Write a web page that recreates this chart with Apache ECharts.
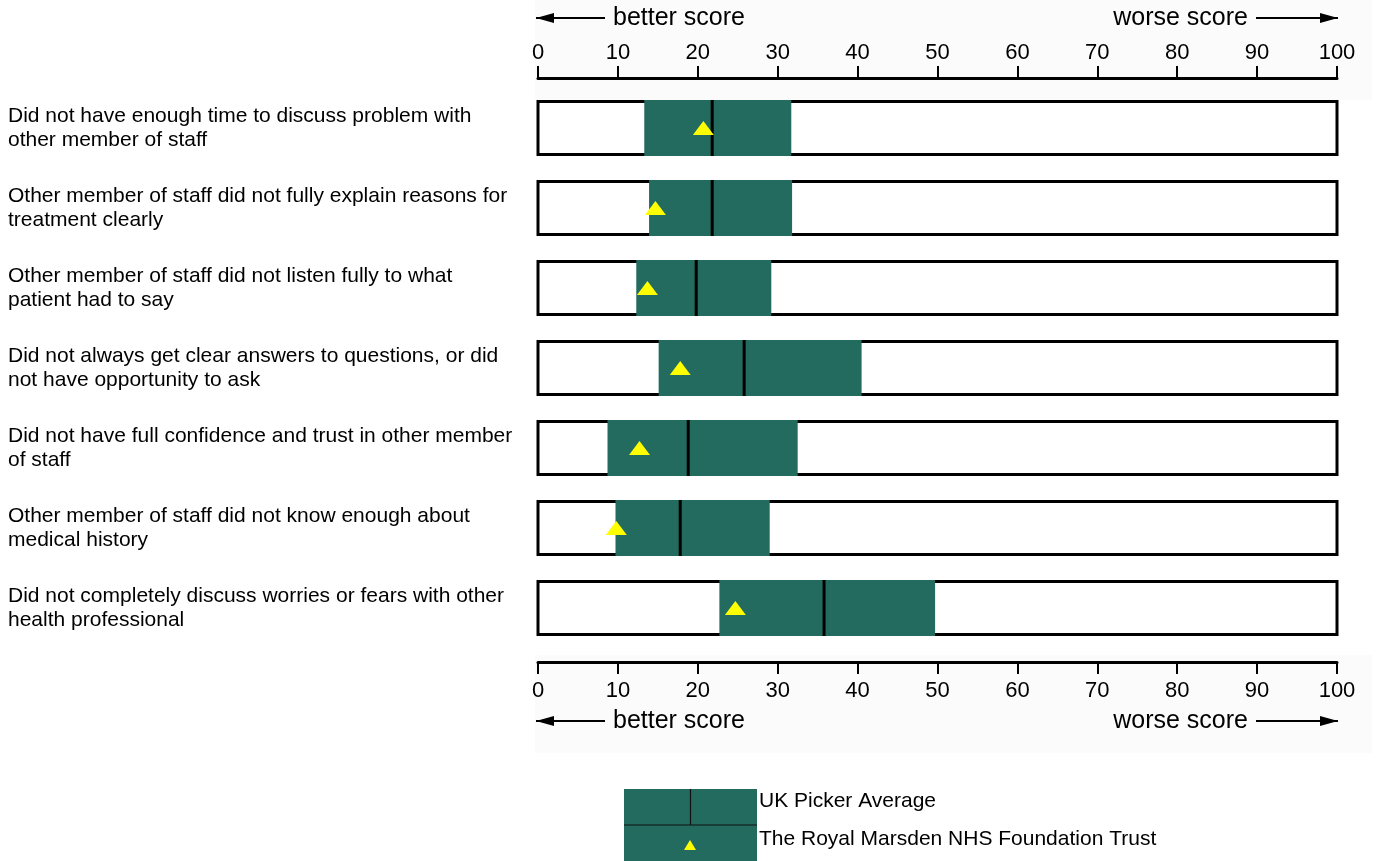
<!DOCTYPE html>
<html>
<head>
<meta charset="utf-8">
<script src="https://cdn.jsdelivr.net/npm/echarts@6/dist/echarts.min.js"></script>
<style>
html,body{margin:0;padding:0;background:#fff;}
#chart{width:1389px;height:861px;}
</style>
</head>
<body>
<div id="chart"></div>
<script>
const categories = [
  "Did not have enough time to discuss problem with\nother member of staff",
  "Other member of staff did not fully explain reasons for\ntreatment clearly",
  "Other member of staff did not listen fully to what\npatient had to say",
  "Did not always get clear answers to questions, or did\nnot have opportunity to ask",
  "Did not have full confidence and trust in other member\nof staff",
  "Other member of staff did not know enough about\nmedical history",
  "Did not completely discuss worries or fears with other\nhealth professional"
];
const pickerLower  = [13.3, 13.9, 12.3, 15.1, 8.7, 9.7, 22.7];
const pickerUpper  = [31.7, 31.8, 29.2, 40.5, 32.5, 29.0, 49.7];
const pickerAverage = [21.8, 21.8, 19.8, 25.8, 18.8, 17.8, 35.8];
const trustScore   = [20.7, 14.7, 13.7, 17.8, 12.7, 9.8, 24.7];
const axisMin = 0, axisMax = 100, axisStep = 10;
const betterLabel = "better score";
const worseLabel = "worse score";
const legendNames = ["UK Picker Average", "The Royal Marsden NHS Foundation Trust"];

const GREEN = '#236B5E';
const YELLOW = '#FFFF00';
const FONT = '"Liberation Sans", Arial, sans-serif';

const chart = echarts.init(document.getElementById('chart'), null, {renderer: 'canvas'});

const seriesData = categories.map((c, i) => [i, pickerLower[i], pickerUpper[i], pickerAverage[i], trustScore[i]]);

function renderItem(params, api) {
  const i = api.value(0);
  const p0 = api.coord([axisMin, i]);
  const p100 = api.coord([axisMax, i]);
  const pL = api.coord([api.value(1), i]);
  const pU = api.coord([api.value(2), i]);
  const pM = api.coord([api.value(3), i]);
  const pT = api.coord([api.value(4), i]);
  const c = p0[1];
  return {
    type: 'group',
    children: [
      {type: 'rect', shape: {x: p0[0], y: c - 26.5, width: p100[0] - p0[0], height: 53},
       style: {fill: '#fff', stroke: '#000', lineWidth: 3}},
      {type: 'rect', shape: {x: pL[0], y: c - 28, width: pU[0] - pL[0], height: 56},
       style: {fill: GREEN}},
      {type: 'line', shape: {x1: pM[0], y1: c - 28, x2: pM[0], y2: c + 28},
       style: {stroke: '#000', lineWidth: 3}},
      {type: 'polygon', shape: {points: [[pT[0] - 10.5, c + 7], [pT[0] + 10.5, c + 7], [pT[0], c - 7]]},
       style: {fill: YELLOW}}
    ]
  };
}

function arrow(x1, x2, y, dir) {
  const hx = dir < 0 ? x1 : x2;
  return [
    {type: 'line', shape: {x1: x1, y1: y, x2: x2, y2: y}, style: {stroke: '#000', lineWidth: 2}},
    {type: 'polygon', shape: {points: [[hx, y], [hx - dir * 18, y - 5], [hx - dir * 18, y + 5]]}, style: {fill: '#000'}}
  ];
}

function textEl(x, y, t, size, align) {
  return {type: 'text', x: x, y: y, style: {text: t, fontSize: size, fontFamily: FONT, fill: '#000', align: align || 'left', verticalAlign: 'middle'}};
}

const graphics = [
  {type: 'rect', z: -10, shape: {x: 535, y: 0, width: 837, height: 100}, style: {fill: '#fbfbfb'}},
  {type: 'rect', z: -10, shape: {x: 535, y: 655, width: 837, height: 98}, style: {fill: '#fbfbfb'}},
  ...arrow(536, 605, 18, -1),
  textEl(613, 18, betterLabel, 25),
  textEl(1248, 18, worseLabel, 25, 'right'),
  ...arrow(1256, 1338, 18, 1),
  ...arrow(536, 605, 721, -1),
  textEl(613, 721, betterLabel, 25),
  textEl(1248, 721, worseLabel, 25, 'right'),
  ...arrow(1256, 1338, 721, 1),
  // legend
  {type: 'rect', shape: {x: 624, y: 789, width: 133, height: 72}, style: {fill: GREEN}},
  {type: 'line', shape: {x1: 690.5, y1: 789, x2: 690.5, y2: 825}, style: {stroke: '#111', lineWidth: 1.2}},
  {type: 'line', shape: {x1: 624, y1: 825, x2: 757, y2: 825}, style: {stroke: '#111', lineWidth: 1.2}},
  {type: 'polygon', shape: {points: [[684, 850], [696, 850], [690, 840]]}, style: {fill: YELLOW}},
  textEl(759, 801, legendNames[0], 21),
  textEl(759, 839, legendNames[1], 21)
];

const axisCommon = {
  type: 'value', min: axisMin, max: axisMax, interval: axisStep,
  axisLine: {show: true, lineStyle: {color: '#000', width: 3}},
  axisTick: {show: true, length: 12, lineStyle: {color: '#000', width: 2}},
  splitLine: {show: false},
  axisLabel: {color: '#000', fontSize: 22, fontFamily: FONT}
};

const option = {
  animation: false,
  backgroundColor: '#fff',
  grid: {left: 538, width: 799, top: 88, height: 560, containLabel: false},
  xAxis: [
    Object.assign({}, axisCommon, {position: 'top', offset: 10, axisLabel: Object.assign({}, axisCommon.axisLabel, {margin: 14})}),
    Object.assign({}, axisCommon, {position: 'bottom', offset: 14, axisLabel: Object.assign({}, axisCommon.axisLabel, {margin: 18})})
  ],
  yAxis: {
    type: 'category', data: categories, inverse: true,
    axisLine: {show: false}, axisTick: {show: false}, splitLine: {show: false},
    axisLabel: {color: '#000', fontSize: 21, fontFamily: FONT, align: 'left', margin: 530, lineHeight: 24}
  },
  series: [{
    type: 'custom', xAxisIndex: 0, yAxisIndex: 0, clip: false,
    renderItem: renderItem, data: seriesData
  }],
  graphic: graphics
};
chart.setOption(option);
</script>
</body>
</html>
